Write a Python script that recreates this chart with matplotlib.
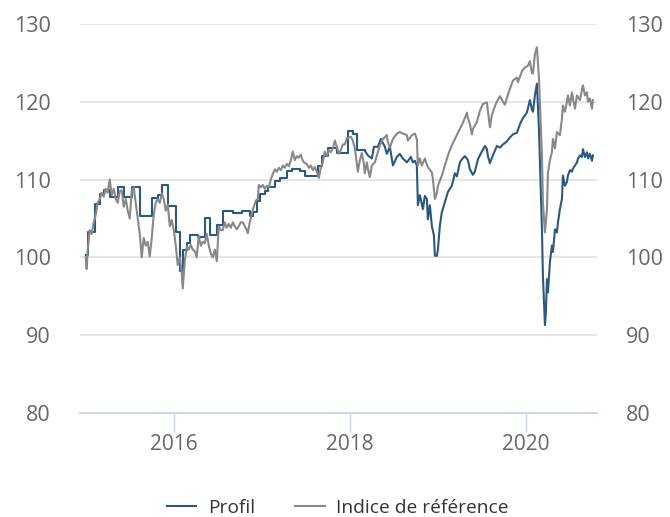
import matplotlib
matplotlib.use('Agg')
import matplotlib.pyplot as plt

plt.rcParams['font.family'] = ['Open Sans', 'DejaVu Sans']

## Data (dates as decimal years)

# Profil: monthly steps until early 2018
profil_step_t = [2015.000, 2015.023, 2015.102, 2015.159, 2015.205, 2015.273, 2015.364, 2015.432,
                 2015.523, 2015.614, 2015.750, 2015.818, 2015.864, 2015.932, 2016.023, 2016.068,
                 2016.102, 2016.148, 2016.182, 2016.273, 2016.352, 2016.409, 2016.489, 2016.557,
                 2016.670, 2016.773, 2016.864, 2016.898, 2016.943, 2016.977, 2017.034, 2017.068,
                 2017.148, 2017.205, 2017.284, 2017.341, 2017.432, 2017.489, 2017.636, 2017.682,
                 2017.750, 2017.852, 2017.977, 2018.034, 2018.080, 2018.170]
profil_step_v = [100.3, 103.3, 106.8, 108.2, 108.6, 107.8, 109.0, 107.8,
                 109.1, 105.3, 107.6, 108.0, 109.3, 106.6, 103.2, 98.2,
                 100.9, 101.8, 102.9, 102.6, 105.0, 102.9, 104.1, 106.0,
                 105.7, 106.0, 105.3, 105.8, 107.2, 108.2, 108.5, 109.1,
                 109.8, 110.2, 111.1, 111.4, 111.1, 110.5, 111.7, 113.0,
                 114.0, 113.4, 116.2, 115.8, 113.8, 113.7]

# Profil: daily from 2018
profil_t = [2018.170, 2018.205, 2018.250, 2018.273, 2018.318, 2018.352, 2018.398, 2018.420,
            2018.455, 2018.489, 2018.534, 2018.568, 2018.602, 2018.648, 2018.693, 2018.716,
            2018.739, 2018.761, 2018.773, 2018.795, 2018.830, 2018.852, 2018.875, 2018.886,
            2018.909, 2018.932, 2018.955, 2018.966, 2018.989, 2019.000, 2019.023, 2019.045,
            2019.080, 2019.114, 2019.159, 2019.193, 2019.216, 2019.250, 2019.273, 2019.307,
            2019.341, 2019.364, 2019.398, 2019.420, 2019.455, 2019.500, 2019.534, 2019.557,
            2019.568, 2019.591, 2019.625, 2019.670, 2019.705, 2019.739, 2019.784, 2019.818,
            2019.852, 2019.898, 2019.932, 2019.966, 2020.011, 2020.045, 2020.068, 2020.080,
            2020.102, 2020.125, 2020.148, 2020.182, 2020.193, 2020.216, 2020.227, 2020.239,
            2020.250, 2020.273, 2020.295, 2020.307, 2020.330, 2020.352, 2020.364, 2020.386,
            2020.409, 2020.420, 2020.443, 2020.466, 2020.477, 2020.500, 2020.523, 2020.534,
            2020.557, 2020.580, 2020.591, 2020.614, 2020.636, 2020.648, 2020.670, 2020.693,
            2020.705, 2020.727, 2020.750, 2020.761]
profil_v = [113.7, 113.1, 112.7, 114.2, 114.2, 115.2, 114.2, 113.3,
            114.2, 111.8, 112.9, 113.3, 112.7, 112.2, 112.9, 112.2,
            112.4, 111.8, 106.7, 108.0, 106.2, 107.9, 107.5, 104.9,
            106.7, 104.0, 102.8, 100.2, 100.2, 101.0, 104.1, 105.8,
            107.1, 108.4, 109.2, 110.8, 110.4, 112.2, 112.6, 113.0,
            112.5, 111.3, 110.6, 111.0, 112.6, 113.6, 114.3, 113.9,
            113.0, 112.1, 113.1, 114.3, 114.1, 114.5, 114.9, 115.4,
            115.8, 116.0, 117.1, 117.9, 118.6, 120.2, 119.0, 118.7,
            120.8, 122.3, 116.5, 103.6, 97.6, 91.3, 93.0, 97.2,
            95.5, 99.4, 101.5, 100.7, 103.6, 103.2, 104.5, 106.2,
            107.5, 110.5, 109.2, 109.7, 110.5, 111.2, 111.0, 111.4,
            111.8, 112.2, 112.7, 113.1, 112.9, 113.9, 112.9, 113.5,
            112.7, 113.3, 112.4, 113.1]

# Indice de référence
indice_t = [2015.000, 2015.011, 2015.023, 2015.045, 2015.068, 2015.091, 2015.114, 2015.136,
            2015.159, 2015.182, 2015.205, 2015.227, 2015.250, 2015.273, 2015.295, 2015.318,
            2015.341, 2015.364, 2015.386, 2015.409, 2015.432, 2015.455, 2015.477, 2015.500,
            2015.523, 2015.545, 2015.568, 2015.591, 2015.614, 2015.636, 2015.659, 2015.682,
            2015.705, 2015.727, 2015.750, 2015.773, 2015.795, 2015.818, 2015.841, 2015.864,
            2015.886, 2015.909, 2015.932, 2015.955, 2015.977, 2016.000, 2016.023, 2016.045,
            2016.068, 2016.091, 2016.102, 2016.125, 2016.148, 2016.170, 2016.193, 2016.216,
            2016.239, 2016.261, 2016.284, 2016.307, 2016.330, 2016.352, 2016.375, 2016.398,
            2016.420, 2016.443, 2016.466, 2016.489, 2016.511, 2016.534, 2016.557, 2016.580,
            2016.602, 2016.625, 2016.648, 2016.670, 2016.693, 2016.716, 2016.739, 2016.761,
            2016.784, 2016.807, 2016.830, 2016.841, 2016.864, 2016.886, 2016.909, 2016.932,
            2016.955, 2016.966, 2016.989, 2017.011, 2017.034, 2017.057, 2017.080, 2017.102,
            2017.125, 2017.148, 2017.170, 2017.193, 2017.216, 2017.239, 2017.261, 2017.284,
            2017.307, 2017.330, 2017.352, 2017.375, 2017.398, 2017.420, 2017.443, 2017.466,
            2017.489, 2017.511, 2017.534, 2017.557, 2017.580, 2017.602, 2017.625, 2017.648,
            2017.670, 2017.693, 2017.716, 2017.739, 2017.761, 2017.784, 2017.807, 2017.830,
            2017.852, 2017.875, 2017.898, 2017.920, 2017.943, 2017.966, 2017.989, 2018.011,
            2018.034, 2018.057, 2018.080, 2018.091, 2018.114, 2018.136, 2018.159, 2018.170,
            2018.193, 2018.205, 2018.227, 2018.250, 2018.284, 2018.307, 2018.341, 2018.375,
            2018.420, 2018.432, 2018.455, 2018.489, 2018.534, 2018.568, 2018.602, 2018.648,
            2018.659, 2018.705, 2018.739, 2018.761, 2018.773, 2018.795, 2018.818, 2018.852,
            2018.886, 2018.932, 2018.943, 2018.966, 2018.989, 2019.000, 2019.045, 2019.080,
            2019.114, 2019.159, 2019.193, 2019.227, 2019.273, 2019.307, 2019.330, 2019.341,
            2019.364, 2019.386, 2019.398, 2019.443, 2019.477, 2019.511, 2019.557, 2019.568,
            2019.591, 2019.614, 2019.648, 2019.670, 2019.705, 2019.739, 2019.761, 2019.795,
            2019.852, 2019.898, 2019.909, 2019.955, 2019.989, 2020.023, 2020.045, 2020.068,
            2020.080, 2020.102, 2020.125, 2020.148, 2020.182, 2020.193, 2020.216, 2020.239,
            2020.250, 2020.273, 2020.295, 2020.307, 2020.330, 2020.352, 2020.386, 2020.409,
            2020.420, 2020.443, 2020.466, 2020.477, 2020.500, 2020.523, 2020.534, 2020.557,
            2020.580, 2020.614, 2020.636, 2020.648, 2020.670, 2020.693, 2020.705, 2020.727,
            2020.750, 2020.761]
indice_v = [100.0, 98.5, 101.0, 103.5, 103.0, 104.5, 105.5, 107.0,
            107.5, 108.3, 107.8, 108.8, 108.3, 110.0, 108.0, 108.8,
            107.5, 107.0, 108.5, 108.6, 106.5, 107.5, 106.0, 105.0,
            108.5, 109.0, 107.0, 105.0, 103.0, 100.0, 102.5, 101.5,
            102.0, 100.1, 102.5, 105.5, 107.0, 107.5, 107.0, 108.2,
            107.5, 106.0, 106.8, 104.0, 104.8, 103.5, 101.5, 99.0,
            100.0, 98.0, 96.0, 99.5, 101.4, 101.0, 101.6, 101.0,
            100.8, 100.0, 102.8, 101.5, 102.0, 101.8, 103.0, 101.5,
            100.5, 100.0, 101.0, 99.5, 104.0, 103.5, 103.5, 104.5,
            103.8, 104.3, 103.8, 104.5, 104.0, 103.6, 104.0, 104.5,
            104.5, 104.0, 103.5, 103.1, 104.5, 105.6, 106.5, 107.3,
            107.5, 109.3, 109.0, 109.3, 108.8, 109.2, 109.0, 110.0,
            110.7, 111.3, 111.0, 111.5, 111.2, 111.8, 111.5, 112.0,
            111.7, 112.5, 113.6, 112.5, 113.0, 112.8, 113.2, 112.4,
            112.1, 112.0, 111.5, 111.8, 111.2, 111.6, 111.0, 110.2,
            111.5, 112.2, 113.6, 113.0, 113.8, 113.5, 114.0, 115.0,
            114.2, 113.3, 113.8, 114.5, 114.5, 115.3, 115.4, 115.5,
            115.0, 114.0, 112.0, 111.0, 112.5, 113.4, 112.0, 110.8,
            112.2, 111.4, 110.3, 111.8, 112.2, 113.1, 114.4, 115.2,
            115.7, 114.8, 114.1, 115.2, 115.9, 116.1, 115.9, 115.7,
            115.0, 115.7, 115.9, 115.2, 111.8, 112.7, 111.8, 112.7,
            111.6, 110.9, 110.1, 107.5, 108.3, 109.2, 110.5, 111.8,
            113.1, 114.4, 115.2, 116.0, 117.0, 117.9, 118.6, 117.9,
            117.1, 115.8, 116.5, 117.4, 118.8, 119.7, 119.9, 118.8,
            116.7, 118.3, 119.4, 120.0, 120.7, 120.0, 119.6, 120.9,
            122.7, 123.1, 122.5, 123.9, 124.4, 124.6, 125.2, 123.7,
            123.6, 126.1, 127.0, 123.0, 113.1, 107.1, 103.2, 106.2,
            110.9, 112.5, 113.5, 115.2, 114.0, 116.1, 115.7, 117.8,
            119.5, 118.7, 120.0, 120.8, 119.5, 121.2, 120.4, 119.1,
            120.8, 120.2, 121.5, 122.1, 120.8, 121.2, 120.0, 120.4,
            119.1, 120.2]

x_ticks = [2016, 2018, 2020]
x_tick_labels = ['2016', '2018', '2020']
y_ticks = [80, 90, 100, 110, 120, 130]

## Plot

profil_color = '#2b587f'
indice_color = '#888888'
axis_color = '#ccd6eb'

fig = plt.figure(figsize=(6.7, 5.17), dpi=100)
ax = fig.add_axes([0.119, 0.201, 0.772, 0.753])

ax.plot(profil_step_t, profil_step_v, color=profil_color, linewidth=1.5,
        drawstyle='steps-post', label='Profil')
ax.plot(profil_t, profil_v, color=profil_color, linewidth=1.5)
ax.plot(indice_t, indice_v, color=indice_color, linewidth=1.5,
        label='Indice de référence')

ax.set_xlim(2014.932, 2020.807)
ax.set_ylim(80, 130)

ax.set_yticks(y_ticks)
ax.set_xticks(x_ticks)
ax.set_xticklabels(x_tick_labels)

ax.grid(True, axis='y', color='#e6e6e6', linewidth=1.4)
ax.set_axisbelow(True)

for s in ['top', 'left', 'right']:
    ax.spines[s].set_visible(False)
ax.spines['bottom'].set_color(axis_color)
ax.spines['bottom'].set_linewidth(1.5)
ax.spines['bottom'].set_zorder(3)

ax.tick_params(axis='y', length=0, labelleft=True, labelright=True, pad=21,
               labelsize=15.5, labelcolor='#666666')
ax.tick_params(axis='x', length=14, width=1, color=axis_color, pad=1,
               labelsize=15, labelcolor='#666666')

fig.legend(loc='center', bbox_to_anchor=(0.504, 0.018), ncol=2, frameon=False,
           fontsize=13.8, labelcolor='#333333', handlelength=1.55, handletextpad=0.6,
           columnspacing=2.1)

fig.savefig('out.png', dpi=100)
